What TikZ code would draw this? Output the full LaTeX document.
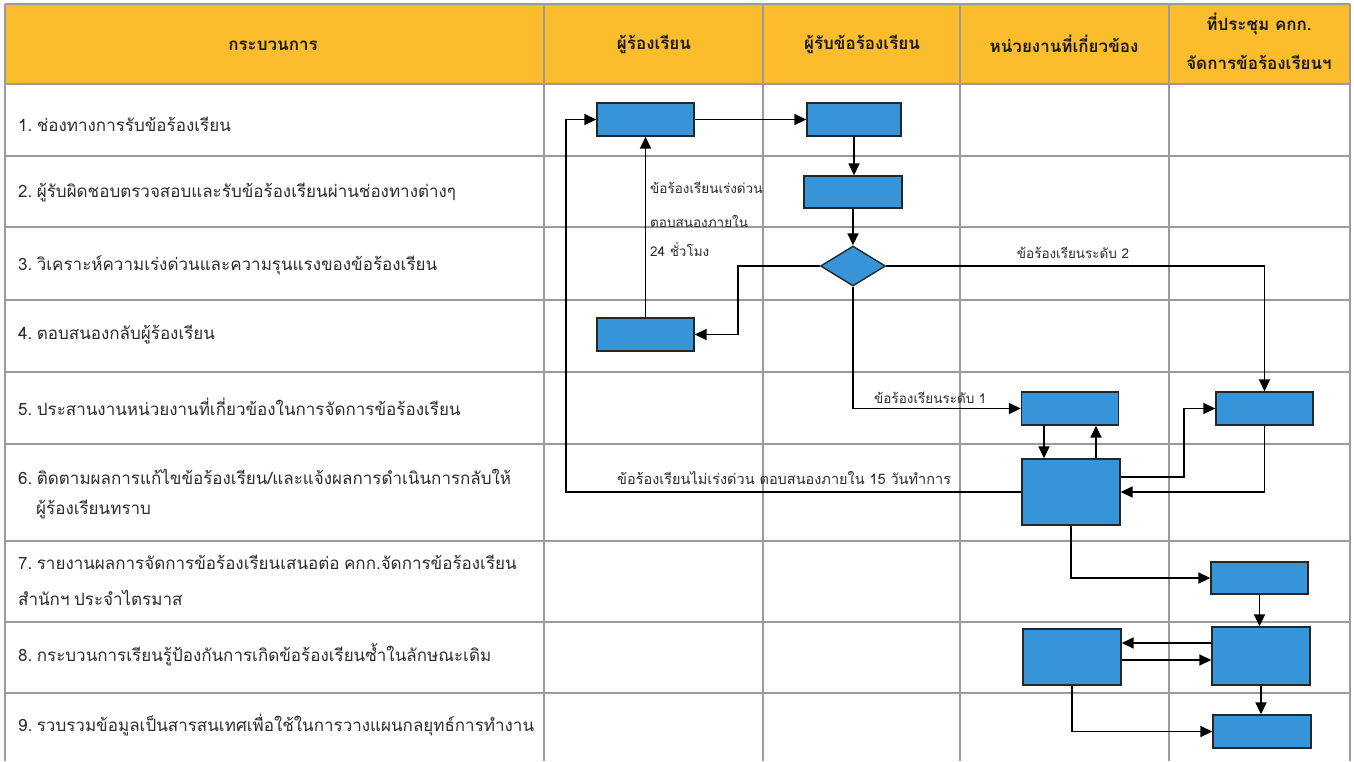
\documentclass[tikz,border=0pt]{standalone}
\usepackage{fontspec}
\setmainfont[Script=Thai]{Loma}
\usetikzlibrary{arrows.meta,shapes.geometric,calc}
\definecolor{hdr}{RGB}{251,189,44}
\definecolor{grid}{RGB}{155,155,155}
\definecolor{boxblue}{RGB}{54,148,217}
\definecolor{txt}{RGB}{45,45,45}
\tikzset{
  gridline/.style={draw=grid,line width=1.4pt},
  box/.style={rectangle,draw=black!85,line width=1.4pt,fill=boxblue,inner sep=0pt},
  dia/.style={diamond,draw=black!85,line width=1.4pt,fill=boxblue,inner sep=0pt,aspect=1.625},
  arr/.style={draw=black,line width=1.7pt,-{Triangle[length=12pt,width=11pt]}},
  rowtxt/.style={anchor=west,text=txt,font={\fontsize{17}{18}\selectfont\spaceskip 4.5pt\relax\xspaceskip 4.5pt\relax},inner sep=0pt},
  hdrtxt/.style={text=black!90,font=\bfseries\fontsize{17}{19}\selectfont,align=center,inner sep=0pt},
  lbl/.style={text=txt,font=\fontsize{13.5}{15}\selectfont,inner sep=0pt},
}
\begin{document}
\begin{tikzpicture}[x=1pt,y=-1pt]
\useasboundingbox (0,0) rectangle (1354,761);
\fill[white] (0,0) rectangle (1354,761);
% header
\fill[hdr] (5,4) rectangle (1350,84);
% grid
\foreach \yy in {4,84,156,227,300,372,444,541,622,693}
  \draw[gridline] (5,\yy) -- (1350,\yy);
\foreach \xx in {5,544,763,960,1169,1350}
  \draw[gridline] (\xx,4) -- (\xx,761);
% header texts
\node[hdrtxt] (h1) at (273,46) {กระบวนการ};
\node[hdrtxt] (h2) at (654,44) {ผู้ร้องเรียน};
\node[hdrtxt] (h3) at (862,44) {ผู้รับข้อร้องเรียน};
\node[hdrtxt] (h4) at (1064,44) {หน่วยงานที่เกี่ยวข้อง};
\node[hdrtxt] (h5a) at (1259,24) {ที่ประชุม คกก.};
\node[hdrtxt] (h5b) at (1259,62) {จัดการข้อร้องเรียนฯ};
% row texts
\node[rowtxt] (r1) at (18,124) {1. ช่องทางการรับข้อร้องเรียน};
\node[rowtxt] (r2) at (18,193) {2. ผู้รับผิดชอบตรวจสอบและรับข้อร้องเรียนผ่านช่องทางต่างๆ};
\node[rowtxt] (r3) at (18,265) {3. วิเคราะห์ความเร่งด่วนและความรุนแรงของข้อร้องเรียน};
\node[rowtxt] (r4) at (18,335) {4. ตอบสนองกลับผู้ร้องเรียน};
\node[rowtxt] (r5) at (18,407) {5. ประสานงานหน่วยงานที่เกี่ยวข้องในการจัดการข้อร้องเรียน};
\node[rowtxt] (r6a) at (18,477) {6. ติดตามผลการแก้ไขข้อร้องเรียน/และแจ้งผลการดำเนินการกลับให้};
\node[rowtxt] (r6b) at (36,510) {ผู้ร้องเรียนทราบ};
\node[rowtxt] (r7a) at (18,562) {7. รายงานผลการจัดการข้อร้องเรียนเสนอต่อ คกก.จัดการข้อร้องเรียน};
\node[rowtxt] (r7b) at (18,598) {สำนักฯ ประจำไตรมาส};
\node[rowtxt] (r8) at (18,655) {8. กระบวนการเรียนรู้ป้องกันการเกิดข้อร้องเรียนซ้ำในลักษณะเดิม};
\node[rowtxt] (r9) at (18,725) {9. รวบรวมข้อมูลเป็นสารสนเทศเพื่อใช้ในการวางแผนกลยุทธ์การทำงาน};
% boxes
\node[box,minimum width=97pt,minimum height=33pt] (b1) at (645.5,119.5) {};
\node[box,minimum width=94pt,minimum height=33pt] (b2) at (854,119.5) {};
\node[box,minimum width=98pt,minimum height=32pt] (b3) at (853,192) {};
\node[dia,minimum width=65pt,minimum height=40pt] (d) at (853,266) {};
\node[box,minimum width=97pt,minimum height=33pt] (b4) at (645.5,334.5) {};
\node[box,minimum width=97pt,minimum height=33pt] (u5) at (1070,408.5) {};
\node[box,minimum width=97pt,minimum height=33pt] (m5) at (1264.5,408.5) {};
\node[box,minimum width=98pt,minimum height=66pt] (u6) at (1071,492) {};
\node[box,minimum width=97pt,minimum height=32pt] (m7) at (1259.5,578) {};
\node[box,minimum width=98pt,minimum height=58pt] (m8) at (1261,656) {};
\node[box,minimum width=98pt,minimum height=56pt] (u8) at (1072,657) {};
\node[box,minimum width=98pt,minimum height=33pt] (m9) at (1262,731.5) {};
% connectors
\draw[arr] (b1) -- (b2);
\draw[arr] (b2.south) -- (b2.south |- b3.north);
\draw[arr] (b3.south) -- (d.north);
\draw[arr] (d.west) -- ++(-82,0) |- (b4.east);
\draw[arr] (b4.north) -- (b1.south);
\draw[arr] (d.east) -| (m5.north);
\draw[arr] (d.south) |- (u5.west);
\draw[arr] ([xshift=-26pt]u5.south) -- ([xshift=-26pt]u5.south |- u6.north);
\draw[arr] ([xshift=26pt]u5.south |- u6.north) -- ([xshift=26pt]u5.south);
\draw[arr] ([yshift=15pt]u6.east) -- ++(63,0) |- (m5.west);
\draw[arr] (m5.south) |- (u6.east);
\draw[arr] (u6.west) -- ++(-455,0) |- (b1.west);
\draw[arr] (u6.south) |- (m7.west);
\draw[arr] (m7.south) -- (m7.south |- m8.north);
\draw[arr] ([yshift=13pt]m8.west) -- ([yshift=13pt]m8.west -| u8.east);
\draw[arr] ([yshift=-3pt]u8.east) -- ([yshift=-3pt]u8.east -| m8.west);
\draw[arr] (m8.south) -- (m8.south |- m9.north);
\draw[arr] (u8.south) |- (m9.west);
% labels
\node[lbl,anchor=west] (l24a) at (650,188) {ข้อร้องเรียนเร่งด่วน};
\node[lbl,anchor=west] (l24b) at (650,221) {ตอบสนองภายใน};
\node[lbl,anchor=west] (l24c) at (650,250) {24 ชั่วโมง};
\node[lbl] (lv2) at (1073,253) {ข้อร้องเรียนระดับ 2};
\node[lbl,anchor=west] (lv1) at (874,398) {ข้อร้องเรียนระดับ 1};
\node[lbl,anchor=west,font=\fontsize{14.5}{16}\selectfont] (l15) at (617,478) {ข้อร้องเรียนไม่เร่งด่วน ตอบสนองภายใน 15 วันทำการ};
\end{tikzpicture}
\end{document}
